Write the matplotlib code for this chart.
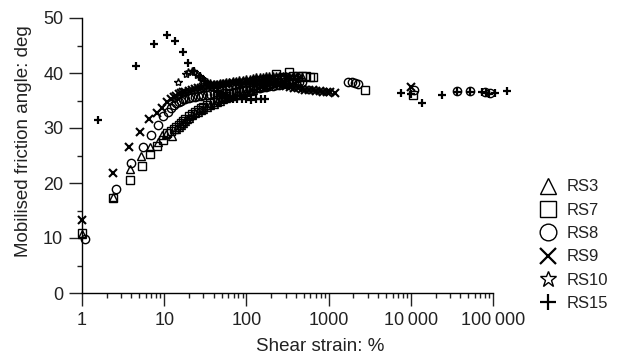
import matplotlib
matplotlib.use("Agg")
import matplotlib.pyplot as plt
from matplotlib.lines import Line2D
from matplotlib.ticker import LogLocator, FixedLocator, MultipleLocator

plt.rcParams['font.family'] = ['Liberation Sans', 'DejaVu Sans']

# RS3 (triangles)
rs3_x = [1.0, 2.4, 3.8, 5.2, 6.7, 8.3, 9.3, 10.5, 12.3, 14, 15, 16, 17, 18, 19, 20, 22, 24,
         26, 28, 30, 33, 36, 40, 44, 48, 52, 57, 62, 68, 75, 82, 90, 100, 110, 120, 130,
         145, 160, 175, 190, 210, 230, 250, 275, 300, 330, 360, 400, 440, 480]
rs3_y = [10.7, 17.4, 22.5, 25.0, 26.6, 27.4, 28.7, 29.0, 28.5, 29.8, 30.2, 30.6, 31.0, 31.3,
         31.6, 31.9, 32.3, 32.7, 33.0, 33.3, 33.5, 33.8, 34.1, 34.4, 34.7, 35.0, 35.2, 35.4,
         35.6, 35.8, 36.0, 36.2, 36.4, 36.6, 36.8, 37.0, 37.2, 37.4, 37.6, 37.8, 38.0, 38.2,
         38.4, 38.5, 38.6, 38.8, 38.9, 39.0, 39.1, 39.2, 39.2]

# RS7 (squares)
rs7_x = [1.0, 2.4, 3.8, 5.3, 6.7, 8.2, 9.7, 10.8, 12, 13, 14, 15, 16, 17, 18, 20, 22, 24, 26,
         28, 30, 33, 36, 40, 44, 48, 52, 57, 62, 68, 75, 82, 90, 100, 110, 120, 130, 145,
         160, 175, 190, 210, 232, 260, 290, 330, 370, 420, 470, 530, 590, 640, 2750, 10500]
rs7_y = [10.85, 17.2, 20.5, 23.1, 25.3, 26.7, 27.9, 29.1, 29.4, 29.8, 30.2, 30.6, 31.0, 31.3,
         31.6, 32.1, 32.6, 33.0, 33.3, 33.6, 33.9, 34.2, 34.5, 34.8, 35.1, 35.4, 35.6, 35.9,
         36.1, 36.3, 36.6, 36.8, 37.0, 37.2, 37.4, 37.6, 37.8, 38.0, 38.2, 38.4, 38.6, 38.8,
         39.9, 39.1, 39.3, 40.2, 39.4, 39.5, 39.5, 39.4, 39.3, 39.2, 36.9, 36.0]

# RS8 (circles)
rs8_x = [1.09, 2.59, 4.0, 5.56, 7.0, 8.4, 9.7, 11, 12, 13, 14, 15, 16, 17, 18, 20, 22, 24, 26,
         28, 30, 33, 36, 40, 44, 48, 52, 57, 62, 68, 75, 82, 90, 100, 110, 120, 130, 145, 160,
         175, 190, 210, 230, 250, 275, 300, 330, 360, 400, 440, 480,
         1700, 1900, 2100, 2300, 11000, 36000, 52000, 80000, 92000]
rs8_y = [9.9, 19.0, 23.6, 26.6, 28.7, 30.5, 32.1, 33.0, 33.6, 34.1, 34.5, 34.8, 35.0, 35.2,
         35.3, 35.5, 35.6, 35.7, 35.8, 35.9, 36.0, 36.0, 36.1, 36.1, 36.2, 36.2, 36.3, 36.3,
         36.4, 36.5, 36.6, 36.7, 36.8, 36.9, 37.0, 37.1, 37.2, 37.3, 37.4, 37.5, 37.6, 37.7,
         37.8, 37.9, 38.0, 38.1, 38.2, 38.3, 38.3, 38.4, 38.4,
         38.3, 38.4, 38.2, 38.0, 37.0, 36.7, 36.7, 36.5, 36.3]

# RS9 (crosses)
rs9_x = [1.0, 2.36, 3.76, 5.06, 6.6, 8.1, 9.3, 10.7, 12, 13, 14, 15, 16, 17, 18, 20, 22, 24,
         26, 28, 30, 33, 36, 40, 44, 48, 52, 57, 62, 68, 75, 82, 90, 100, 110, 120, 130, 145,
         160, 175, 190, 210, 230, 250, 275, 300, 340, 380, 420, 470, 520, 580, 640, 700, 780,
         860, 950, 1050, 1180, 10000]
rs9_y = [13.3, 21.8, 26.6, 29.3, 31.6, 32.8, 33.6, 34.8, 35.3, 35.6, 35.9, 36.1, 36.3, 36.5,
         36.6, 36.8, 37.0, 37.1, 37.2, 37.3, 37.4, 37.5, 37.6, 37.7, 37.8, 37.9, 37.9, 38.0,
         38.0, 38.1, 38.1, 38.2, 38.2, 38.3, 38.3, 38.3, 38.4, 38.4, 38.4, 38.3, 38.3, 38.2,
         38.1, 38.0, 37.9, 37.7, 37.5, 37.3, 37.2, 37.1, 37.0, 36.9, 36.9, 36.8, 36.7, 36.6,
         36.6, 36.5, 36.4, 37.5]

# RS10 (stars)
rs10_x = [14.8, 18.5, 19.6, 21.5, 23, 25, 27, 28.5, 30, 33, 36, 40, 44, 48, 52, 57, 62, 68,
          75, 82, 90, 100, 110, 120, 130, 145, 160, 175, 190, 210, 230, 250, 275, 300, 330,
          360, 400]
rs10_y = [38.4, 39.8, 40.2, 40.3, 40.1, 39.6, 39.2, 38.9, 38.6, 38.3, 38.1, 38.0, 38.0, 38.1,
          38.2, 38.3, 38.4, 38.5, 38.6, 38.7, 38.8, 38.9, 39.0, 39.1, 39.2, 39.3, 39.3, 39.4,
          39.4, 39.4, 39.5, 39.5, 39.5, 39.5, 39.4, 39.3, 39.2]

# RS15 (plus)
rs15_x = [1.55, 4.53, 7.56, 10.7, 13.7, 16.7, 19.6, 23, 27, 31, 35, 40, 45, 52, 60, 68, 76, 88,
          100, 115, 130, 150, 167, 7700, 10000, 13800, 23700, 36000, 52500, 74000, 82000,
          90000, 105000, 150000]
rs15_y = [31.5, 41.3, 45.3, 46.9, 45.9, 43.9, 41.9, 40.4, 39.4, 38.5, 37.8, 37.2, 36.6, 36.0,
          35.5, 35.3, 35.2, 35.2, 35.2, 35.1, 35.2, 35.2, 35.2, 36.3, 36.2, 34.6, 36.0, 36.6,
          36.6, 36.5, 36.4, 36.2, 36.4, 36.8]

series = [
    ("RS3", rs3_x, rs3_y, "^", "none", 1.0),
    ("RS7", rs7_x, rs7_y, "s", "none", 1.0),
    ("RS8", rs8_x, rs8_y, "o", "none", 1.0),
    ("RS9", rs9_x, rs9_y, "x", "black", 1.5),
    ("RS10", rs10_x, rs10_y, "*", "none", 1.0),
    ("RS15", rs15_x, rs15_y, "+", "black", 1.6),
]

fig = plt.figure(figsize=(6.34, 3.58), dpi=100)
ax = fig.add_axes([82 / 634, 1 - 293 / 358, (493 - 82) / 634, (293 - 18) / 358])

handles = []
for name, xs, ys, mk, fc, lw in series:
    ax.plot(xs, ys, linestyle="none", marker=mk, markersize=6, markerfacecolor=fc,
            markeredgecolor="black", markeredgewidth=lw, clip_on=False)
    handles.append(Line2D([], [], linestyle="none", marker=mk, markersize=12,
                          markerfacecolor=fc, markeredgecolor="black",
                          markeredgewidth=1.0 if fc == "none" else 1.6))

ax.set_xscale("log")
ax.set_xlim(1, 100000)
ax.set_ylim(0, 50)
ax.xaxis.set_major_locator(FixedLocator([1, 10, 100, 1000, 10000, 100000]))
ax.set_xticklabels(["1", "10", "100", "1000", "10\u2009000", "100\u2009000"])
ax.xaxis.set_minor_locator(LogLocator(base=10, subs=range(2, 10), numticks=20))
ax.yaxis.set_major_locator(MultipleLocator(10))
ax.yaxis.set_minor_locator(MultipleLocator(5))

for s in ["top", "right"]:
    ax.spines[s].set_visible(False)
for s in ["left", "bottom"]:
    ax.spines[s].set_linewidth(1.0)
ax.tick_params(which="major", direction="out", length=9.5, width=1.0, labelsize=13,
               pad=4, colors="#222222")
ax.tick_params(which="minor", direction="out", length=3.8, width=1.0, colors="#222222")

ax.set_xlabel("Shear strain: %", fontsize=13.5, color="#222222")
ax.set_ylabel("Mobilised friction angle: deg", fontsize=13.5, color="#222222")
ax.xaxis.set_label_coords((320 - 82) / 411, (293 - 338) / 275)
ax.yaxis.set_label_coords((32 - 82) / 411, (293 - 141) / 275)

fig.legend(handles, [s[0] for s in series], loc="upper left",
           bbox_to_anchor=(530 / 634, 1 - 171 / 358), frameon=False, fontsize=12,
           handlelength=1.2, handletextpad=0.5, labelspacing=0.5, borderpad=0,
           labelcolor="#222222")

fig.savefig("out.png", dpi=100)
